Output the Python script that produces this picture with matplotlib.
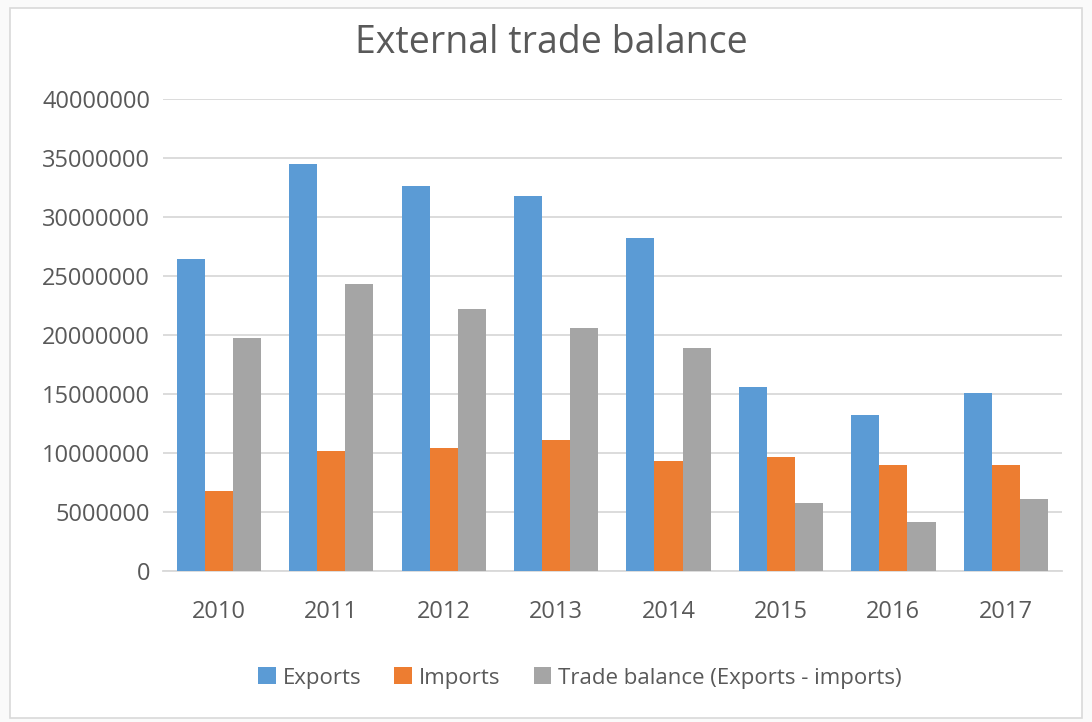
import matplotlib.pyplot as plt
import numpy as np
from matplotlib.patches import Rectangle

years = ['2010', '2011', '2012', '2013', '2014', '2015', '2016', '2017']
exports = [26400000, 34500000, 32600000, 31800000, 28250000, 15600000, 13200000, 15100000]
imports = [6750000, 10200000, 10450000, 11100000, 9300000, 9700000, 8980000, 9000000]
balance = [19750000, 24300000, 22200000, 20600000, 18900000, 5760000, 4150000, 6100000]
yticks = [0, 5000000, 10000000, 15000000, 20000000, 25000000, 30000000, 35000000, 40000000]

plt.rcParams['font.family'] = ['Open Sans', 'DejaVu Sans']
text_col = '#595959'

fig = plt.figure(figsize=(10.92, 7.22), dpi=100)
fig.patch.set_facecolor('#fafafa')
# white chart area with thin border, kept behind the axes
fig.patches.append(Rectangle((0.009, 0.006), 0.982, 0.983, transform=fig.transFigure,
                             facecolor='white', edgecolor='#d9d9d9', linewidth=1.2,
                             zorder=-10))

ax = fig.add_axes([0.149, 0.209, 0.8235, 0.654])
ax.set_facecolor('none')
x = np.arange(len(years))
w = 0.25
ax.bar(x - w, exports, w, color='#5b9bd5', label='Exports', zorder=3)
ax.bar(x, imports, w, color='#ed7d31', label='Imports', zorder=3)
ax.bar(x + w, balance, w, color='#a5a5a5', label='Trade balance (Exports - imports)', zorder=3)

ax.set_xlim(-0.5, len(years) - 0.5)
ax.set_ylim(0, 40000000)
ax.set_yticks(yticks)
ax.set_yticklabels([str(v) for v in yticks])
ax.set_xticks(x)
ax.set_xticklabels(years)
ax.yaxis.grid(True, color='#d9d9d9', linewidth=1.3, zorder=0)
ax.set_axisbelow(True)
for s in ['top', 'right', 'left']:
    ax.spines[s].set_visible(False)
ax.spines['bottom'].set_color('#d9d9d9')
ax.spines['bottom'].set_linewidth(1.3)
ax.tick_params(axis='both', length=0, labelsize=17, colors=text_col)
ax.tick_params(axis='y', pad=9)
ax.tick_params(axis='x', pad=21)

fig.text(0.505, 0.94, 'External trade balance', ha='center', va='center',
         fontsize=27, color=text_col)
fig.legend(loc='center', bbox_to_anchor=(0.531, 0.061), ncol=3, frameon=False,
           fontsize=16, labelcolor=text_col, handlelength=0.8, handleheight=0.8,
           handletextpad=0.3, columnspacing=1.5)

fig.savefig('out.png', dpi=100)
